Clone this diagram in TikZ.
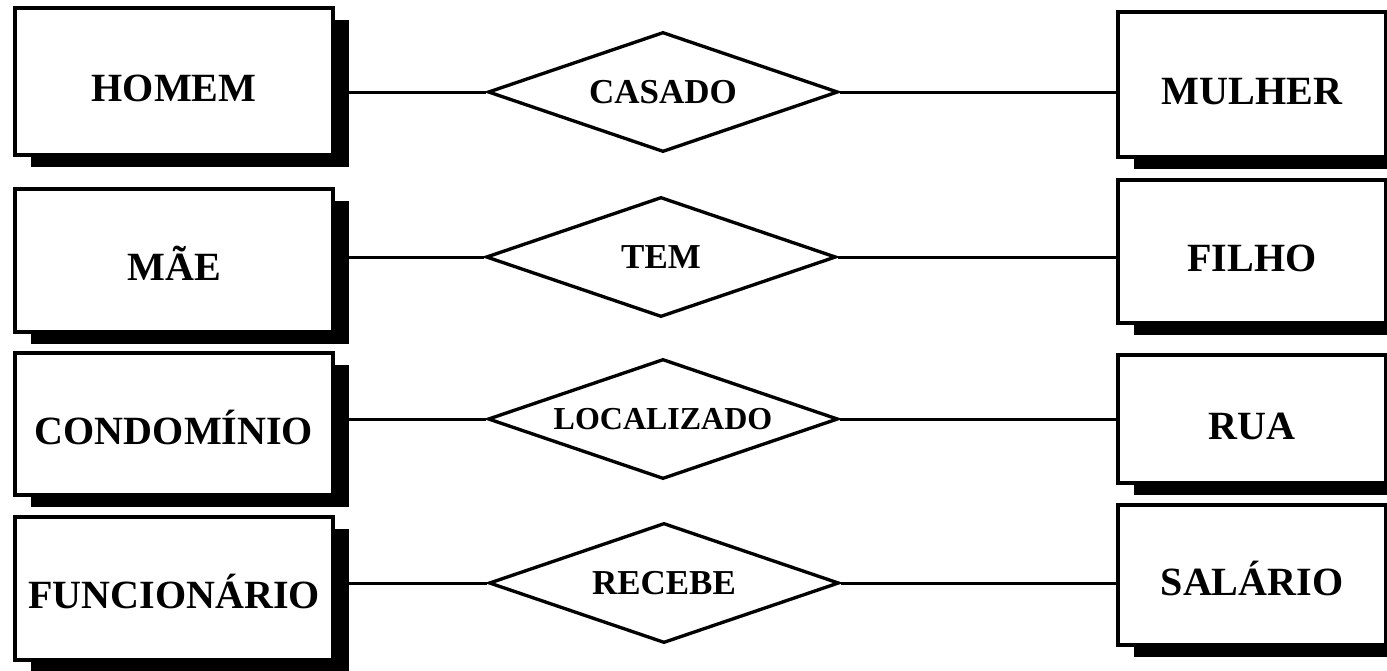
\documentclass[tikz,border=0pt]{standalone}
\usepackage{fontspec}
\setmainfont{Liberation Serif}
\usetikzlibrary{shapes.geometric,shadows}

\begin{document}
\begin{tikzpicture}[x=0.2mm, y=-0.2mm,
	entidade/.style={draw, line width=2pt, fill=white, inner sep=0pt,
		text height=8mm, text depth=0pt,
		font=\fontsize{22.8}{24}\selectfont\bfseries,
		drop shadow={shadow xshift=3.2mm, shadow yshift=-2.4mm, fill=black, opacity=1}},
	relacao/.style={draw, diamond, aspect=2.9, line width=1.9pt, fill=white, inner sep=0pt,
		minimum width=70mm, minimum height=24mm,
		font=\fontsize{19.9}{22}\selectfont\bfseries},
	linha/.style={line width=1.7pt}]
	\useasboundingbox (0,0) rectangle (1387,670); % Rand wie Vorlage
	
	% Entitaeten links
	\node[entidade, minimum width=63.6mm, minimum height=29.4mm] (homem) at (174,81.5) {HOMEM};
	\node[entidade, minimum width=63.6mm, minimum height=28.6mm] (mae) at (174,260.5) {MÃE};
	\node[entidade, minimum width=63.6mm, minimum height=28.4mm] (condominio) at (174,424) {CONDOMÍNIO};
	\node[entidade, minimum width=63.6mm, minimum height=28.6mm] (funcionario) at (174,588.5) {FUNCIONÁRIO};
	
	% Entitaeten rechts (am Rand abgeschnitten)
	\node[entidade, minimum width=53.6mm, minimum height=29mm] (mulher) at (1252,84.5) {MULHER};
	\node[entidade, minimum width=53.6mm, minimum height=28.6mm] (filho) at (1252,251.5) {FILHO};
	\node[entidade, minimum width=53.6mm, minimum height=25.6mm] (rua) at (1252,419) {RUA};
	\node[entidade, minimum width=53.6mm, minimum height=28mm] (salario) at (1252,575) {SALÁRIO};
	
	% Beziehungen
	\node[relacao] (casado) at (663,92) {CASADO};
	\node[relacao] (tem) at (661,257) {TEM};
	\node[relacao, font=\fontsize{18.2}{20}\selectfont\bfseries] (localizado) at (663,419) {LOCALIZADO};
	\node[relacao] (recebe) at (664,583) {RECEBE};
	
	% Verbindungen
	\draw[linha] (homem.east |- casado.west) -- (casado.west);
	\draw[linha] (casado.east) -- (casado.east -| mulher.west);
	\draw[linha] (mae.east |- tem.west) -- (tem.west);
	\draw[linha] (tem.east) -- (tem.east -| filho.west);
	\draw[linha] (condominio.east |- localizado.west) -- (localizado.west);
	\draw[linha] (localizado.east) -- (localizado.east -| rua.west);
	\draw[linha] (funcionario.east |- recebe.west) -- (recebe.west);
	\draw[linha] (recebe.east) -- (recebe.east -| salario.west);
\end{tikzpicture}
\end{document}
